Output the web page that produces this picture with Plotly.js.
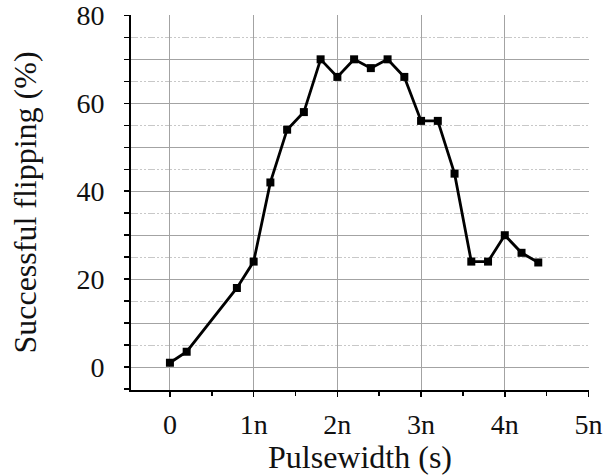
<!DOCTYPE html>
<html>
<head>
<meta charset="utf-8">
<script src="https://cdn.plot.ly/plotly-3.0.1.min.js"></script>
<style>html,body{margin:0;padding:0;background:#fff;}#chart{width:615px;height:475px;}</style>
</head>
<body>
<div id="chart"></div>
<script>
// Pulsewidth in ns
var pulsewidth = [0, 0.2, 0.8, 1.0, 1.2, 1.4, 1.6, 1.8, 2.0, 2.2, 2.4, 2.6, 2.8, 3.0, 3.2, 3.4, 3.6, 3.8, 4.0, 4.2, 4.4];
var flipping = [1, 3.5, 18, 24, 42, 54, 58, 70, 66, 70, 68, 70, 66, 56, 56, 44, 24, 24, 30, 26, 23.8];
var xTickVals = [0, 1, 2, 3, 4, 5];
var xTickText = ["0", "1n", "2n", "3n", "4n", "5n"];
var xMinorVals = [0.5, 1.5, 2.5, 3.5, 4.5];
var yTickVals = [0, 10, 20, 30, 40, 50, 60, 70, 80];
var yTickText = ["0", "", "20", "", "40", "", "60", "", "80"];
var yMinorVals = [-5, 5, 15, 25, 35, 45, 55, 65, 75];

var trace = {
  x: pulsewidth, y: flipping, type: 'scatter', mode: 'lines+markers',
  line: {color: '#000', width: 2.8},
  marker: {symbol: 'square', size: 8, color: '#000'},
  showlegend: false, hoverinfo: 'skip'
};
var fontFam = '"Liberation Serif", "Times New Roman", serif';
var layout = {
  width: 615, height: 475,
  margin: {l: 131, r: 26, t: 15, b: 85},
  paper_bgcolor: '#fff', plot_bgcolor: '#fff',
  font: {family: fontFam, color: '#111'},
  xaxis: {
    range: [-0.465, 5.006], tickmode: 'array', tickvals: xTickVals, ticktext: xTickText,
    showgrid: true, gridcolor: '#a3a3a3', gridwidth: 1, zeroline: false,
    showline: true, linecolor: '#000', linewidth: 2,
    ticks: 'outside', ticklen: 5, tickcolor: '#000', tickwidth: 1.5,
    ticklabelstandoff: 3,
    tickfont: {size: 28, family: fontFam, color: '#111'},
    minor: {tickmode: 'array', tickvals: xMinorVals, ticks: 'outside', ticklen: 4, tickcolor: '#000', showgrid: false},
    title: {text: 'Pulsewidth (s)', font: {size: 32, family: fontFam, color: '#111'}, standoff: 6}
  },
  yaxis: {
    range: [-5.2, 80.08], tickmode: 'array', tickvals: yTickVals, ticktext: yTickText,
    showgrid: true, gridcolor: '#a3a3a3', gridwidth: 1, zeroline: false,
    showline: true, linecolor: '#000', linewidth: 2,
    ticks: 'outside', ticklen: 5, tickcolor: '#000', tickwidth: 1.5,
    tickfont: {size: 28, family: fontFam, color: '#111'},
    ticklabelstandoff: 14,
    minor: {tickmode: 'array', tickvals: yMinorVals, ticks: 'outside', ticklen: 5, tickcolor: '#000', showgrid: true, gridcolor: '#c8c8c8', gridwidth: 1, griddash: '7px,2px,2px,2px,2px,2px'},
    title: {text: 'Successful flipping (%)', font: {size: 32, family: fontFam, color: '#111'}, standoff: 30}
  }
};
Plotly.newPlot('chart', [trace], layout, {displayModeBar: false, staticPlot: true});
</script>
</body>
</html>
